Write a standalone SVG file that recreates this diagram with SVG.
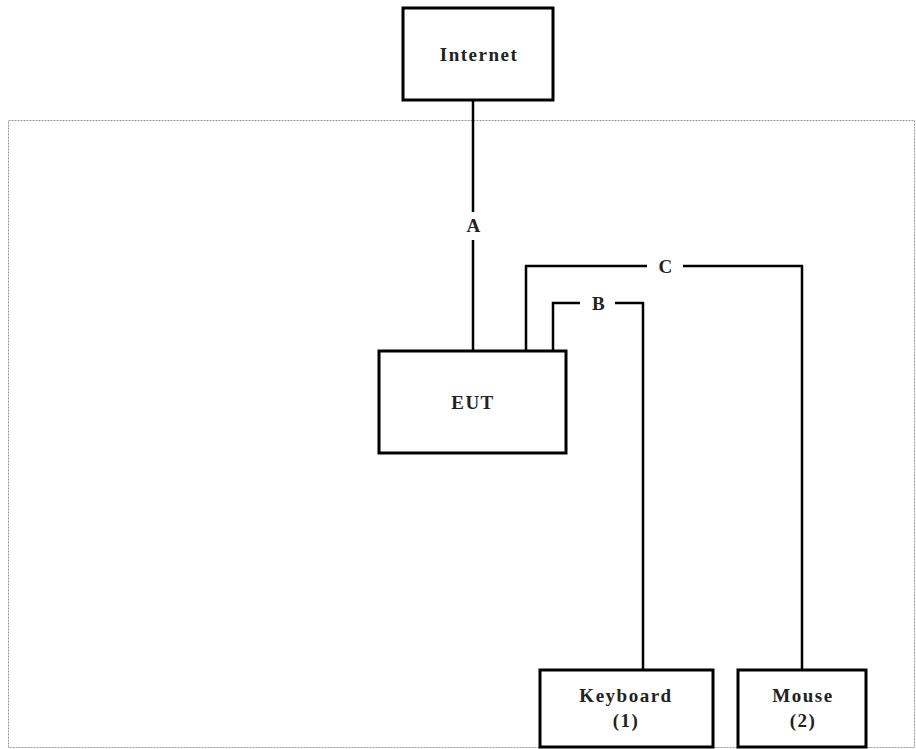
<svg xmlns="http://www.w3.org/2000/svg" width="916" height="749" viewBox="0 0 916 749">
<style>
.box{fill:#fff;stroke:#000;stroke-width:3}
.ln{fill:none;stroke:#000;stroke-width:2.5}
.t{font-family:"Liberation Serif",serif;font-weight:bold;font-size:19px;letter-spacing:1.5px;fill:#222;text-anchor:middle}
.bd{fill:none;stroke:#999;stroke-width:1;stroke-dasharray:2,1}
</style>
<rect id="border" class="bd" x="8.5" y="120.5" width="906" height="627"/>
<g id="connectors">
<path class="ln" d="M473,100V212M473,240V351"/>
<text class="t" x="474" y="232">A</text>
<path class="ln" d="M526,351V266H647M683,266H802V670"/>
<text class="t" x="666" y="273">C</text>
<path class="ln" d="M553,351V303H580M615,303H643V670"/>
<text class="t" x="599" y="310">B</text>
</g>
<g id="internet">
<rect class="box" x="403" y="8" width="150" height="92"/>
<text class="t" x="479" y="61">Internet</text>
</g>
<g id="eut">
<rect class="box" x="379" y="351" width="187" height="102"/>
<text class="t" x="473" y="409">EUT</text>
</g>
<g id="keyboard">
<rect class="box" x="540" y="670" width="173" height="77"/>
<text class="t" x="626" y="702">Keyboard</text>
<text class="t" x="626" y="727">(1)</text>
</g>
<g id="mouse">
<rect class="box" x="738" y="670" width="128" height="77"/>
<text class="t" x="803" y="702">Mouse</text>
<text class="t" x="803" y="727">(2)</text>
</g>
</svg>
